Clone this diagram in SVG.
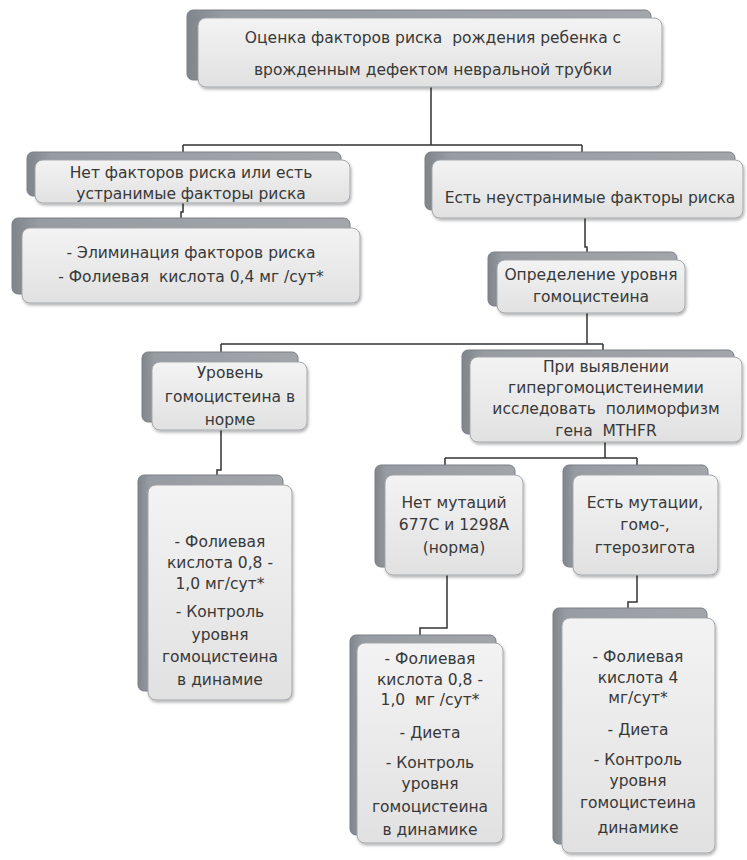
<svg xmlns="http://www.w3.org/2000/svg" width="747" height="860" viewBox="0 0 747 860">
<defs>
<linearGradient id="gFront" x1="0" y1="0" x2="0" y2="1">
<stop offset="0" stop-color="#f3f3f3"/>
<stop offset="1" stop-color="#e1e1e1"/>
</linearGradient>
<linearGradient id="gBack" x1="0" y1="0" x2="1" y2="0">
<stop offset="0" stop-color="#80858b"/>
<stop offset="0.08" stop-color="#979ca2"/>
<stop offset="1" stop-color="#a2a6ab"/>
</linearGradient>
<filter id="sh" x="-10%" y="-10%" width="120%" height="130%">
<feDropShadow dx="1" dy="2" stdDeviation="1.5" flood-color="#000" flood-opacity="0.3"/>
</filter>
</defs>
<style>
.back{fill:url(#gBack);stroke:#7a7f86;stroke-width:1}
.front{fill:url(#gFront);stroke:#a3a7ab;stroke-width:1;filter:url(#sh)}
.t{font-family:"DejaVu Sans","Liberation Sans",sans-serif;font-size:15.5px;fill:#383838;text-anchor:middle}
.c{fill:none;stroke:#333;stroke-width:1.5}
</style>
<rect width="747" height="860" fill="#fff"/>

<g id="connectors">
<path class="c" d="M431,87 V145 M183,145 H582 M183,145 V152 M582,145 V152"/>
<path class="c" d="M183,203 V212 H181 V218"/>
<path class="c" d="M585,218 V247 H587 V252"/>
<path class="c" d="M587,313 V344 M221,344 H603 M221,344 V352 M603,344 V350"/>
<path class="c" d="M221,430 V470 H217 V475"/>
<path class="c" d="M605,442 V458 M445,458 H637 M445,458 V465 M637,458 V465"/>
<path class="c" d="M447,575 V628 H420 V635"/>
<path class="c" d="M637,575 V602 H628 V608"/>
</g>

<g id="n_top">
<rect class="back" x="187" y="10" width="464" height="70" rx="6"/>
<rect class="front" x="198" y="18" width="464" height="69" rx="8"/>
<text class="t" x="433" y="43" xml:space="preserve">Оценка факторов риска  рождения ребенка с</text>
<text class="t" x="433" y="75">врожденным дефектом невральной трубки</text>
</g>

<g id="n_no_risk">
<rect class="back" x="27" y="152" width="314" height="44" rx="6"/>
<rect class="front" x="35" y="160" width="315" height="43" rx="8"/>
<text class="t" x="191" y="178">Нет факторов риска или есть</text>
<text class="t" x="191" y="199">устранимые факторы риска</text>
</g>

<g id="n_elim">
<rect class="back" x="12" y="218" width="338" height="76" rx="6"/>
<rect class="front" x="22" y="228" width="338" height="75" rx="8"/>
<text class="t" x="191" y="258">- Элиминация факторов риска</text>
<text class="t" x="191" y="282" xml:space="preserve">- Фолиевая  кислота 0,4 мг /сут*</text>
</g>

<g id="n_risk">
<rect class="back" x="425" y="152" width="310" height="58" rx="6"/>
<rect class="front" x="432" y="160" width="311" height="58" rx="8"/>
<text class="t" x="590" y="203">Есть неустранимые факторы риска</text>
</g>

<g id="n_hcy">
<rect class="back" x="488" y="252" width="189" height="54" rx="6"/>
<rect class="front" x="497" y="260" width="188" height="53" rx="8"/>
<text class="t" x="591" y="280">Определение уровня</text>
<text class="t" x="591" y="302">гомоцистеина</text>
</g>

<g id="n_norm">
<rect class="back" x="142" y="352" width="156" height="70" rx="6"/>
<rect class="front" x="152" y="362" width="155" height="68" rx="8"/>
<text class="t" x="230" y="378">Уровень</text>
<text class="t" x="230" y="402">гомоцистеина в</text>
<text class="t" x="230" y="425">норме</text>
</g>

<g id="n_hyper">
<rect class="back" x="462" y="350" width="272" height="84" rx="6"/>
<rect class="front" x="470" y="357" width="272" height="85" rx="8"/>
<text class="t" x="606" y="372">При выявлении</text>
<text class="t" x="606" y="393">гипергомоцистеинемии</text>
<text class="t" x="606" y="414" xml:space="preserve">исследовать  полиморфизм</text>
<text class="t" x="606" y="436" xml:space="preserve">гена  MTHFR</text>
</g>

<g id="n_norm_tx">
<rect class="back" x="138" y="475" width="145" height="216" rx="6"/>
<rect class="front" x="148" y="485" width="144" height="215" rx="8"/>
<text class="t" x="220" y="547">- Фолиевая</text>
<text class="t" x="220" y="568">кислота 0,8 -</text>
<text class="t" x="220" y="589">1,0 мг/сут*</text>
<text class="t" x="220" y="617">- Контроль</text>
<text class="t" x="220" y="640">уровня</text>
<text class="t" x="220" y="662">гомоцистеина</text>
<text class="t" x="220" y="685">в динамие</text>
</g>

<g id="n_nomut">
<rect class="back" x="375" y="465" width="140" height="102" rx="6"/>
<rect class="front" x="385" y="475" width="138" height="100" rx="8"/>
<text class="t" x="454" y="508">Нет мутаций</text>
<text class="t" x="454" y="530">677С и 1298А</text>
<text class="t" x="454" y="553">(норма)</text>
</g>

<g id="n_mut">
<rect class="back" x="563" y="465" width="145" height="102" rx="6"/>
<rect class="front" x="573" y="475" width="145" height="100" rx="8"/>
<text class="t" x="645" y="508">Есть мутации,</text>
<text class="t" x="645" y="530">гомо-,</text>
<text class="t" x="645" y="553">гтерозигота</text>
</g>

<g id="n_nomut_tx">
<rect class="back" x="350" y="635" width="146" height="200" rx="6"/>
<rect class="front" x="357" y="643" width="146" height="200" rx="8"/>
<text class="t" x="430" y="664">- Фолиевая</text>
<text class="t" x="430" y="685">кислота 0,8 -</text>
<text class="t" x="430" y="705" xml:space="preserve">1,0  мг /сут*</text>
<text class="t" x="430" y="738">- Диета</text>
<text class="t" x="430" y="768">- Контроль</text>
<text class="t" x="430" y="789">уровня</text>
<text class="t" x="430" y="812">гомоцистеина</text>
<text class="t" x="430" y="835">в динамике</text>
</g>

<g id="n_mut_tx">
<rect class="back" x="553" y="608" width="154" height="236" rx="6"/>
<rect class="front" x="562" y="618" width="153" height="235" rx="8"/>
<text class="t" x="638" y="662">- Фолиевая</text>
<text class="t" x="638" y="683">кислота 4</text>
<text class="t" x="638" y="703">мг/сут*</text>
<text class="t" x="638" y="735">- Диета</text>
<text class="t" x="638" y="765">- Контроль</text>
<text class="t" x="638" y="786">уровня</text>
<text class="t" x="638" y="808">гомоцистеина</text>
<text class="t" x="638" y="833">динамике</text>
</g>
</svg>
